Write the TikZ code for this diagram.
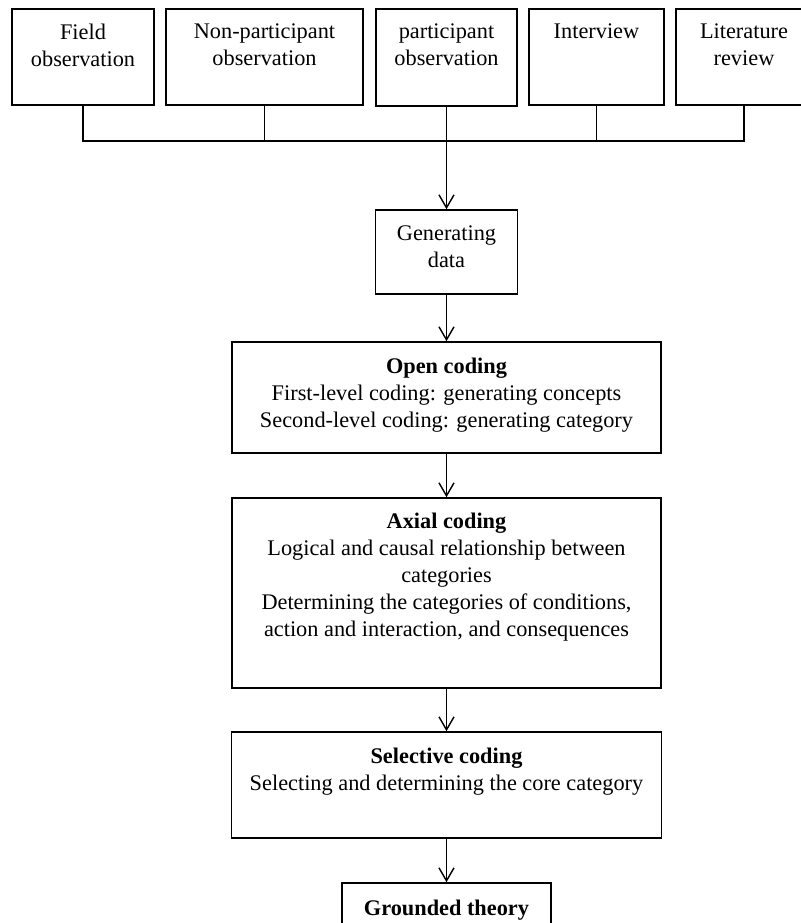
\documentclass[tikz,border=0pt]{standalone}
\usepackage{fontspec}
\setmainfont{Liberation Serif}
\usetikzlibrary{arrows.meta}
\usetikzlibrary{positioning}
\tikzset{
  stepbox/.style={shape=rectangle, draw, line width=0.9pt, inner sep=0pt},
  steptext/.style={align=center, inner sep=0pt, font=\fontsize{12.7}{15.3}\selectfont},
  link/.style={line width=0.8pt},
  flow/.style={line width=0.8pt, -{Straight Barb[length=0.26cm, width=0.3cm, line width=0.8pt]}}
}

\begin{document}
\begin{tikzpicture}
	\useasboundingbox (0, 0) rectangle (16.02, -18.46);
	\clip (0, 0) rectangle (16.02, -18.46);

	% --- Datenquellen (obere Reihe) ---
	\node[stepbox, minimum width=2.84cm, minimum height=1.92cm] (field) at (1.66, -1.14){};
	\node[stepbox, minimum width=3.94cm, minimum height=1.92cm] (nonpart) at (5.29, -1.14){};
	\node[stepbox, minimum width=2.82cm, minimum height=1.94cm] (part) at (8.93, -1.15){};
	\node[stepbox, minimum width=2.70cm, minimum height=1.92cm] (interview) at (11.93, -1.14){};
	\node[stepbox, minimum width=2.72cm, minimum height=1.92cm] (literature) at (14.88, -1.14){};

	\node[steptext, below=0.31cm of field.north] (fieldtxt) {Field\\observation};
	\node[steptext, below=0.31cm of nonpart.north] (nonparttxt) {Non-participant\\observation};
	\node[steptext, below=0.31cm of part.north] (parttxt) {participant\\observation};
	\node[steptext, below=0.31cm of interview.north] (interviewtxt) {Interview};
	\node[steptext, below=0.31cm of literature.north] (literaturetxt) {Literature\\review};

	% --- Sammelleitung ---
	\coordinate (bus) at (8.93, -2.82);
	\draw[link] (field.south) -- (field.south |- bus) -- (literature.south |- bus) -- (literature.south);
	\draw[link] (nonpart.south) -- (nonpart.south |- bus);
	\draw[link] (interview.south) -- (interview.south |- bus);

	% --- Kodierschritte ---
	\node[stepbox, minimum width=2.84cm, minimum height=1.68cm] (gen) at (8.93, -5.04){};
	\node[stepbox, minimum width=8.58cm, minimum height=2.22cm] (open) at (8.93, -7.95){};
	\node[stepbox, minimum width=8.58cm, minimum height=3.80cm] (axial) at (8.93, -11.86){};
	\node[stepbox, minimum width=8.60cm, minimum height=2.12cm] (selective) at (8.93, -15.70){};
	\node[stepbox, minimum width=4.18cm, minimum height=1.20cm] (grounded) at (8.93, -18.26){};

	\node[steptext, below=0.33cm of gen.north] (gentxt) {Generating\\data};
	\node[steptext, below=0.33cm of open.north] (opentxt) {\textbf{Open coding}\\First-level coding: generating concepts\\Second-level coding: generating category};
	\node[steptext, below=0.31cm of axial.north] (axialtxt) {\textbf{Axial coding}\\Logical and causal relationship between\\categories\\Determining the categories of conditions,\\action and interaction, and consequences};
	\node[steptext, below=0.33cm of selective.north] (selectivetxt) {\textbf{Selective coding}\\Selecting and determining the core category};
	\node[steptext, below=0.34cm of grounded.north] (groundedtxt) {\textbf{Grounded theory}};

	% --- Pfeile ---
	\draw[flow] (part.south) -- (gen.north);
	\draw[flow] (gen.south) -- (open.north);
	\draw[flow] (open.south) -- (axial.north);
	\draw[flow] (axial.south) -- (selective.north);
	\draw[flow] (selective.south) -- (grounded.north);

\end{tikzpicture}
\end{document}
